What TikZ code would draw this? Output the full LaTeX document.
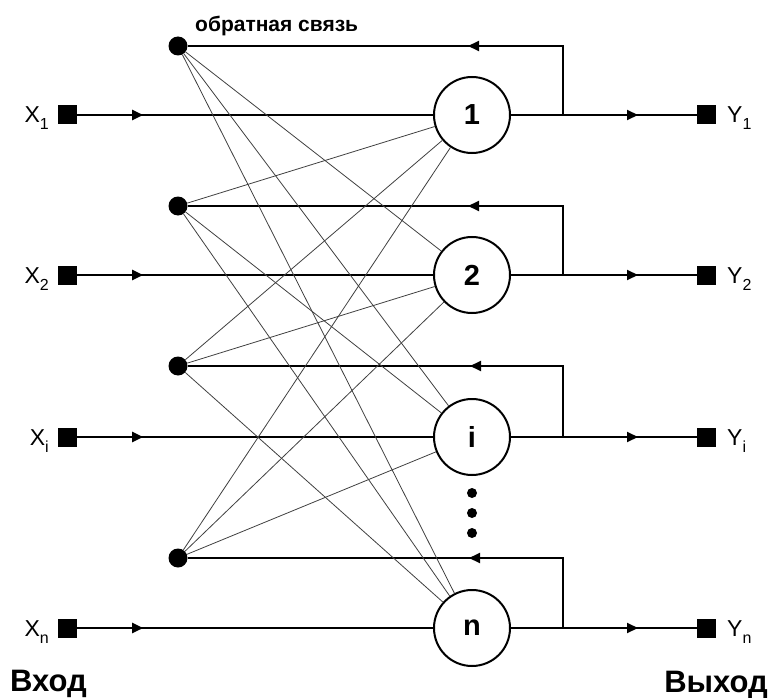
\documentclass[tikz,border=0pt]{standalone}
\usepackage{fontspec}
\setmainfont{Liberation Sans}
\usetikzlibrary{arrows.meta,calc,positioning,decorations.markings}
\newcommand{\sublbl}[2]{#1\raisebox{-7pt}{\fontsize{16}{16}\selectfont #2}}

\begin{document}
\begin{tikzpicture}[x=1pt,y=-1pt,
  neuron/.style={draw,circle,line width=2pt,minimum size=76pt,inner sep=0pt,font=\fontsize{29}{29}\selectfont\bfseries},
  port/.style={fill,minimum size=19pt,inner sep=0pt},
  fbdot/.style={fill,circle,minimum size=19pt,inner sep=0pt},
  pdot/.style={fill,circle,minimum size=10pt,inner sep=0pt},
  wire/.style={line width=2pt},
  link/.style={gray!50!black,line width=0.8pt},
  tipat/.style={postaction={decorate},decoration={markings,mark=at position #1 with {\arrow{Triangle[length=11pt,width=10pt]}}}},
  lbl/.style={inner sep=0pt,font=\fontsize{23}{23}\selectfont},
  title/.style={inner sep=0pt,font=\fontsize{31}{31}\selectfont\bfseries}]
\useasboundingbox (0,0) rectangle (771,698);
% neurons, inputs, outputs and feedback
\foreach \k/\y/\f in {1/115/46,2/275/206,i/437/366,n/628/558}{
  \node[neuron] (N\k) at (472,\y) {\k};
  \node[port] (X\k) at (67.5,\y) {};
  \node[port] (Y\k) at (706.5,\y) {};
  \node[fbdot] (F\k) at (178,\f) {};
  \coordinate (B\k) at (563,\y);
  \node[lbl,anchor=base east] (LX\k) at (49,{\y+8}) {\sublbl{X}{\k}};
  \node[lbl,anchor=base west] (LY\k) at (727,{\y+8}) {\sublbl{Y}{\k}};
  \draw[wire,tipat=66pt] (X\k) -- (N\k);
  \draw[wire,tipat=127pt] (N\k) -- (Y\k);
  \draw[wire,tipat=164pt] (B\k) |- (F\k);
}
% cross links
\foreach \a in {1,2,i,n}{
  \foreach \b in {1,2,i,n}{
    \ifx\a\b\else\draw[link] (F\a) -- (N\b);\fi
  }
}
\node[pdot] (D1) at (472,493) {};
\node[pdot] (D2) at (472,513) {};
\node[pdot] (D3) at (472,533) {};
\node[inner sep=0pt,font=\fontsize{21}{21}\selectfont\bfseries,anchor=base west] (FB) at (195,32) {обратная связь};
\node[title,anchor=base west] (IN) at (10,691) {Вход};
\node[title,anchor=base east] (OUT) at (768,692) {Выход};
\end{tikzpicture}
\end{document}
